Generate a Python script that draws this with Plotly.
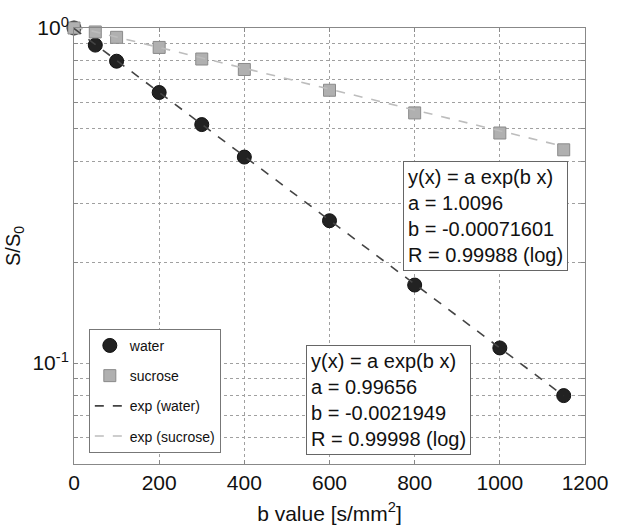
import numpy as np
import plotly.graph_objects as go

# b values [s/mm^2]
b_values = [0, 50, 100, 200, 300, 400, 600, 800, 1000, 1150]

# measured normalized signal S/S0
water = [1.0, 0.889, 0.796, 0.642, 0.515, 0.412, 0.266, 0.171, 0.111, 0.080]
sucrose = [1.0, 0.973, 0.938, 0.875, 0.808, 0.752, 0.652, 0.558, 0.486, 0.433]

# mono-exponential fit parameters y(x) = a exp(b x)
fit_water = {"a": 0.99656, "b": -0.0021949, "R": 0.99998}
fit_sucrose = {"a": 1.0096, "b": -0.00071601, "R": 0.99988}

# y-axis tick positions (decades and minor subdivisions)
y_ticks = [0.05, 0.06, 0.07, 0.08, 0.09, 0.1, 0.2, 0.3, 0.4, 0.5, 0.6, 0.7, 0.8, 0.9, 1.0]
y_labels = {0.1: "10<sup>-1</sup>", 1.0: "10<sup>0</sup>"}

FONT = "Liberation Sans, Arial, Helvetica, sans-serif"

x_fit = np.array(b_values, dtype=float)


def fit_curve(p):
    return p["a"] * np.exp(p["b"] * x_fit)


fig = go.Figure()

fig.add_trace(go.Scatter(
    x=b_values, y=water, mode="markers", name="water",
    marker=dict(symbol="circle", size=14, color="#222222",
                line=dict(color="#111111", width=1)),
    cliponaxis=False, legendgroup="g1",
))
fig.add_trace(go.Scatter(
    x=b_values, y=sucrose, mode="markers", name="sucrose",
    marker=dict(symbol="square", size=12, color="#b0b0b0",
                line=dict(color="#8a8a8a", width=1)),
    cliponaxis=False, legendgroup="g2",
))
fig.add_trace(go.Scatter(
    x=x_fit, y=fit_curve(fit_water), mode="lines", name="exp (water)",
    line=dict(color="#444444", width=1.6, dash="dash"),
    legendgroup="g3",
))
fig.add_trace(go.Scatter(
    x=x_fit, y=fit_curve(fit_sucrose), mode="lines", name="exp (sucrose)",
    line=dict(color="#bdbdbd", width=1.6, dash="dash"),
    legendgroup="g4",
))


def fit_text(p):
    return ("y(x) = a exp(b x)<br>"
            f"a = {p['a']:g}<br>"
            f"b = {p['b']:.8g}<br>"
            f"R = {p['R']:g} (log)")


box_style = dict(
    xref="paper", yref="paper", xanchor="left", yanchor="top",
    align="left", showarrow=False, bgcolor="white",
    bordercolor="#666666", borderwidth=1, borderpad=4,
    font=dict(family=FONT, size=20, color="#111111"),
)
fig.add_annotation(x=0.643, y=0.695, text=fit_text(fit_sucrose), **box_style)
fig.add_annotation(x=0.454, y=0.273, text=fit_text(fit_water), **box_style)

axis_common = dict(
    showline=True, linecolor="#888888", linewidth=1, mirror="allticks",
    ticks="inside", ticklen=4, tickcolor="#888888",
    showgrid=True, gridcolor="#a0a0a0", griddash="dot", gridwidth=1,
    zeroline=False,
)

fig.update_xaxes(
    range=[0, 1200], dtick=200, tick0=0, automargin=False,
    tickfont=dict(family=FONT, size=21, color="#111111"),
    title=dict(text="b value [s/mm<sup>2</sup>]",
               font=dict(family=FONT, size=21, color="#111111")),
    **axis_common,
)
fig.update_yaxes(
    type="log", range=[np.log10(0.05), 0.0],
    tickvals=y_ticks, ticktext=[y_labels.get(v, "") for v in y_ticks],
    tickfont=dict(family=FONT, size=21, color="#111111"),
    title=dict(text="S/S<sub>0</sub>",
               font=dict(family=FONT, size=20, color="#111111"), standoff=6),
    **axis_common,
)

fig.update_layout(
    width=622, height=525,
    margin=dict(l=72, r=37, t=28, b=61),
    paper_bgcolor="white", plot_bgcolor="white",
    font=dict(family=FONT, color="#111111"),
    showlegend=True,
    legend=dict(
        x=0.029, y=0.31, xanchor="left", yanchor="top",
        bgcolor="white", bordercolor="#777777", borderwidth=1,
        font=dict(family=FONT, size=14, color="#111111"),
        tracegroupgap=9, traceorder="grouped",
        itemwidth=30,
    ),
)

fig.write_html("out.html")
